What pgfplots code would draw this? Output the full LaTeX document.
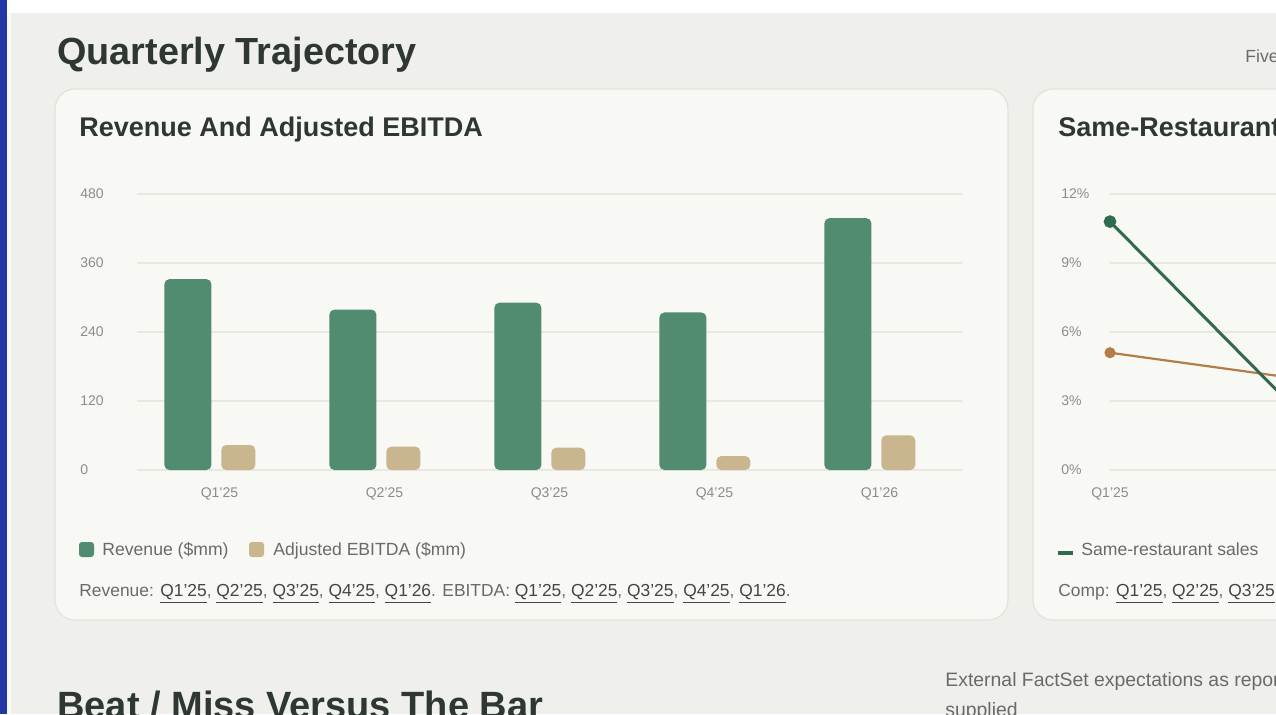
\documentclass[border=0pt]{standalone}
\usepackage{pgfplots}
\pgfplotsset{compat=1.18}
\usepackage{fontspec}
\setmainfont{Liberation Sans}
\definecolor{pagebg}{HTML}{EFEFEB}
\definecolor{cardbg}{HTML}{F8F8F5}
\definecolor{cardborder}{HTML}{E3E3DE}
\definecolor{leftblue}{HTML}{2435A6}
\definecolor{headc}{HTML}{2E3831}
\definecolor{tickc}{HTML}{8C8C88}
\definecolor{gridc}{HTML}{E8E8E3}
\definecolor{revc}{HTML}{518C70}
\definecolor{ebc}{HTML}{C9B58E}
\definecolor{compc}{HTML}{2F6B4E}
\definecolor{orangec}{HTML}{B57C47}
\definecolor{srcc}{HTML}{6A6A66}
\definecolor{linkc}{HTML}{454541}
\newcommand{\lnk}[1]{{\color{linkc}\underline{#1}}}
\newcommand{\bodyfont}{\fontsize{8.8}{10.5}\selectfont}
\newcommand{\srcfont}{\fontsize{8.7}{10.5}\selectfont}
\newcommand{\tickfont}{\fontsize{7}{8}\selectfont}
\begin{document}
\begin{tikzpicture}[x=0.5pt,y=-0.5pt]
\useasboundingbox (0,0) rectangle (1276,714);
\clip (0,0) rectangle (1276,714);
% page background
\fill[pagebg] (0,0) rectangle (1276,714);
\fill[white] (0,0) rectangle (1276,13);
\fill[leftblue] (0,0) rectangle (7,714);
\fill[white!96!gray] (7,13) rectangle (11,714);
% cards
\draw[cardborder, fill=cardbg, line width=0.6pt, rounded corners=10pt] (55,89) rectangle (1008,620);
\draw[cardborder, fill=cardbg, line width=0.6pt, rounded corners=10pt] (1033,89) rectangle (1340,620);
% headings
\node[anchor=base west, inner sep=0, font=\fontsize{18.9}{22}\selectfont\bfseries, text=headc] at (57,64) {Quarterly Trajectory};
\node[anchor=base west, inner sep=0, font=\bodyfont, text=srcc] at (1245,62) {Five quarters of results};
\node[anchor=base west, inner sep=0, font=\fontsize{13.5}{16}\selectfont\bfseries, text=headc] at (79,136) {Revenue And Adjusted EBITDA};
\node[anchor=base west, inner sep=0, font=\fontsize{13.5}{16}\selectfont\bfseries, text=headc] at (1058,136) {Same-Restaurant Sales};
% bottom section
\node[anchor=base west, inner sep=0, font=\fontsize{19}{22}\selectfont\bfseries, text=headc] at (57,718) {Beat / Miss Versus The Bar};
\node[anchor=base west, inner sep=0, font=\fontsize{9.7}{11}\selectfont, text=srcc] at (945,686) {External FactSet expectations as reported};
\node[anchor=base west, inner sep=0, font=\fontsize{9.7}{11}\selectfont, text=srcc] at (945,716) {supplied};

% Revenue and EBITDA chart
\begin{axis}[
  at={(68.5pt,-235pt)}, anchor=south west, scale only axis,
  width=412.5pt, height=138pt,
  xmin=-0.5, xmax=4.5, ymin=0, ymax=480,
  axis line style={draw=none}, major tick length=0pt,
  ytick={0,120,240,360,480}, yticklabels={0,120,240,360,480},
  ymajorgrids, grid style={color=gridc, line width=0.7pt},
  xtick={0,1,2,3,4}, xticklabels={Q1'25,Q2'25,Q3'25,Q4'25,Q1'26},
  yticklabel style={anchor=base west, inner sep=0pt, xshift=-28.5pt, yshift=-2.4pt, font=\tickfont, text=tickc},
  xticklabel style={anchor=base, inner sep=0pt, yshift=-13.5pt, font=\tickfont, text=tickc},
  clip=false,
]
\addplot[ybar, bar width=23.5pt, bar shift=-15.8pt, fill=revc, draw=none, rounded corners=2.5pt]
  coordinates {(0,332) (1,279) (2,291) (3,274) (4,438)};
\addplot[ybar, bar width=17pt, bar shift=9.4pt, fill=ebc, draw=none, rounded corners=2.5pt]
  coordinates {(0,43.5) (1,40.6) (2,38.8) (3,24.3) (4,60.3)};
\end{axis}

% Same-restaurant sales chart
\begin{axis}[
  at={(555pt,-235pt)}, anchor=south west, scale only axis,
  width=400pt, height=138pt,
  xmin=0, xmax=4, ymin=0, ymax=12,
  axis line style={draw=none}, major tick length=0pt,
  ytick={0,3,6,9,12}, yticklabels={0\%,3\%,6\%,9\%,12\%},
  ymajorgrids, grid style={color=gridc, line width=0.7pt},
  xtick={0,1,2,3,4}, xticklabels={Q1'25,Q2'25,Q3'25,Q4'25,Q1'26},
  yticklabel style={anchor=base west, inner sep=0pt, xshift=-24.5pt, yshift=-2.4pt, font=\tickfont, text=tickc},
  xticklabel style={anchor=base, inner sep=0pt, yshift=-13.5pt, font=\tickfont, text=tickc},
  clip=false,
]
\addplot[color=orangec, line width=1.1pt, mark=*, mark size=2.2pt, mark options={fill=orangec, draw=orangec}]
  coordinates {(0,5.1) (1,3.9)};
\addplot[color=compc, line width=1.5pt, mark=*, mark size=2.4pt, mark options={fill=compc, draw=compc}]
  coordinates {(0,10.8) (1,2.0)};
\end{axis}

% legends
\fill[revc, rounded corners=1.5pt] (79,542) rectangle (94,557);
\node[anchor=base west, inner sep=0, font=\bodyfont, text=srcc] at (102,555) {Revenue (\$mm)};
\fill[ebc, rounded corners=1.5pt] (249,542) rectangle (264,557);
\node[anchor=base west, inner sep=0, font=\bodyfont, text=srcc] at (273,555) {Adjusted EBITDA (\$mm)};
\fill[compc] (1058,551) rectangle (1073,555);
\node[anchor=base west, inner sep=0, font=\bodyfont, text=srcc] at (1081,555) {Same-restaurant sales};
% source lines
\node[anchor=base west, inner sep=0, font=\srcfont, text=srcc] at (79,596)
  {Revenue: \lnk{Q1'25}, \lnk{Q2'25}, \lnk{Q3'25}, \lnk{Q4'25}, \lnk{Q1'26}. EBITDA: \lnk{Q1'25}, \lnk{Q2'25}, \lnk{Q3'25}, \lnk{Q4'25}, \lnk{Q1'26}.};
\node[anchor=base west, inner sep=0, font=\srcfont, text=srcc] at (1058,596)
  {Comp: \lnk{Q1'25}, \lnk{Q2'25}, \lnk{Q3'25}, \lnk{Q4'25}, \lnk{Q1'26}.};
\end{tikzpicture}
\end{document}
